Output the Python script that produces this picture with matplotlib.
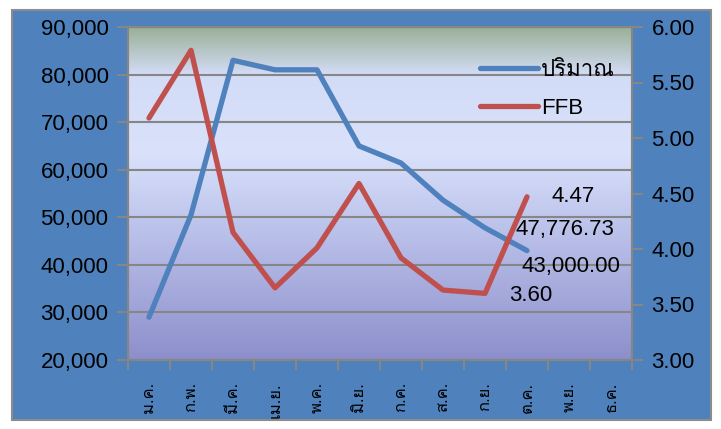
import numpy as np
import matplotlib
matplotlib.use("Agg")
import matplotlib.pyplot as plt
import matplotlib.font_manager as fm
from matplotlib.ft2font import FT2Font
from matplotlib.colors import LinearSegmentedColormap
from matplotlib.patches import Rectangle
from matplotlib.ticker import FuncFormatter

months = ["ม.ค.", "ก.พ.", "มี.ค.", "เม.ย.", "พ.ค.", "มิ.ย.",
          "ก.ค.", "ส.ค.", "ก.ย.", "ต.ค.", "พ.ย.", "ธ.ค."]
volume = [29000, 50500, 83000, 81000, 81000, 65000,
          61400, 53600, 47776.73, 43000]
ffb = [5.18, 5.79, 4.15, 3.65, 4.01, 4.59, 3.92, 3.63, 3.60, 4.47]
vol_label = "ปริมาณ"
ffb_label = "FFB"

# find a font that has thai glyphs
thai = []
for f in fm.fontManager.ttflist:
    try:
        if 0x0E1B in FT2Font(f.fname).get_charmap() and f.name not in thai:
            thai.append(f.name)
    except Exception:
        pass
fams = ["Liberation Sans"] + thai + ["DejaVu Sans"]
plt.rcParams["font.family"] = fams

blue = "#4F81BD"
red = "#C0504D"
grey = "#868686"

fig = plt.figure(figsize=(7.21, 4.29), dpi=100)
fig.patches.append(Rectangle((12 / 721, 1 - 420 / 429), 699 / 721, 410 / 429,
                             transform=fig.transFigure, facecolor=blue,
                             edgecolor="#8C8C8C", lw=1.5, zorder=-10))

ax = fig.add_axes([128 / 721, 1 - 360 / 429, 504 / 721, 333 / 429])
ax2 = ax.twinx()

cmap = LinearSegmentedColormap.from_list("bg", [
    (0.0, "#8D8FCB"), (0.4, "#BCC3EB"), (0.62, "#D9E1FB"),
    (0.86, "#D3DCF6"), (1.0, "#9AB097")])
grad = np.linspace(0, 1, 256).reshape(-1, 1)
ax.imshow(grad, cmap=cmap, origin="lower", extent=[0, 1, 0, 1],
          transform=ax.transAxes, aspect="auto", zorder=-1)

x = np.arange(len(volume))
ax.plot(x, volume, color=blue, lw=3.8, label=vol_label, solid_capstyle="round")
ax2.plot(x, ffb, color=red, lw=3.8, label=ffb_label, solid_capstyle="round")

ax.set_xlim(-0.5, 11.5)
ax.set_ylim(20000, 90000)
ax2.set_ylim(3, 6)
ax.set_yticks(np.arange(20000, 90001, 10000))
ax2.set_yticks(np.arange(3, 6.01, 0.5))
ax.yaxis.set_major_formatter(FuncFormatter(lambda v, p: f"{v:,.0f}"))
ax2.yaxis.set_major_formatter(FuncFormatter(lambda v, p: f"{v:.2f}"))
ax.yaxis.grid(True, color=grey, lw=1.5, zorder=0)
ax.set_axisbelow(True)

ax.set_xticks(np.arange(12))
ax.set_xticklabels(months, rotation=90, fontsize=12)
ax.set_xticks(np.arange(-0.5, 12, 1), minor=True)
ax.tick_params(axis="x", which="major", length=0, pad=16)
ax.tick_params(axis="x", which="minor", length=7, color=grey, width=1.5)
ax.tick_params(axis="y", length=8, color=grey, width=1.5, labelsize=16, pad=6)
ax2.tick_params(axis="y", length=8, color=grey, width=1.5, labelsize=16, pad=6)
for a in (ax, ax2):
    for s in a.spines.values():
        s.set_color(grey)
        s.set_linewidth(1.5)

# data labels
labs = [(ax2, 9, ffb[9], "4.47", (24, 0)),
        (ax, 8, volume[8], "47,776.73", (30, -2)),
        (ax, 9, volume[9], "43,000.00", (-5, -16)),
        (ax2, 8, ffb[8], "3.60", (24, -2))]
for a, i, v, t, off in labs:
    a.annotate(t, (i, v), xytext=off, textcoords="offset pixels",
               ha="left", va="center", fontsize=16)

h1, l1 = ax.get_legend_handles_labels()
h2, l2 = ax2.get_legend_handles_labels()
ax2.legend(h1 + h2, l1 + l2, loc="upper left",
           bbox_to_anchor=(460 / 721, 1 - 40 / 429),
           bbox_transform=fig.transFigure, frameon=False, fontsize=16,
           handlelength=2.6, handletextpad=0.15, labelspacing=0.75)

fig.savefig("out.png", dpi=100)
